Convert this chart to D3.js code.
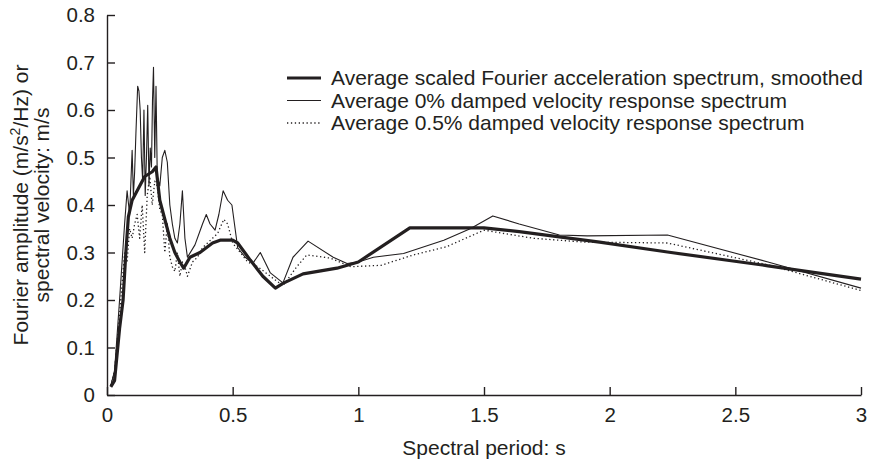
<!DOCTYPE html>
<html>
<head>
<meta charset="utf-8">
<script src="https://cdn.jsdelivr.net/npm/d3@7"></script>
<style>
  body { margin: 0; background: #fff; }
  svg text { font-family: "Liberation Sans", Arial, Helvetica, sans-serif; fill: #231f20; }
</style>
</head>
<body>
<div id="chart"></div>
<script>
// SPECTRAL PERIOD (s) AND VALUES
// thick: average scaled Fourier acceleration spectrum, smoothed
const smoothT = [0.015, 0.03, 0.05, 0.064, 0.075, 0.085, 0.1, 0.12, 0.15, 0.18, 0.195, 0.21, 0.23, 0.25, 0.27, 0.29, 0.305, 0.33, 0.37, 0.42, 0.45, 0.5, 0.52, 0.57, 0.62, 0.67, 0.7, 0.78, 0.915, 1.0, 1.205, 1.5, 1.64, 1.815, 1.96, 2.23, 2.63, 3.0];
const smoothV = [0.017, 0.03, 0.14, 0.2, 0.3, 0.375, 0.41, 0.43, 0.46, 0.47, 0.48, 0.41, 0.37, 0.33, 0.3, 0.28, 0.267, 0.29, 0.3, 0.32, 0.326, 0.326, 0.32, 0.284, 0.25, 0.225, 0.235, 0.255, 0.267, 0.28, 0.352, 0.352, 0.344, 0.332, 0.322, 0.301, 0.272, 0.244];

// thin: average 0% damped velocity response spectrum
const damp0T = [0.015, 0.03, 0.05, 0.07, 0.08, 0.09, 0.1, 0.105, 0.11, 0.115, 0.122, 0.127, 0.132, 0.137, 0.142, 0.147, 0.152, 0.157, 0.162, 0.167, 0.172, 0.177, 0.181, 0.185, 0.19, 0.195, 0.2, 0.21, 0.22, 0.23, 0.24, 0.25, 0.26, 0.27, 0.28, 0.29, 0.3, 0.31, 0.32, 0.35, 0.38, 0.395, 0.41, 0.43, 0.445, 0.462, 0.48, 0.497, 0.52, 0.55, 0.58, 0.61, 0.65, 0.7, 0.74, 0.8, 0.9, 0.955, 1.0, 1.06, 1.18, 1.34, 1.445, 1.535, 1.64, 1.8, 1.91, 2.23, 2.63, 3.0];
const damp0V = [0.02, 0.05, 0.2, 0.36, 0.43, 0.38, 0.515, 0.42, 0.47, 0.55, 0.65, 0.64, 0.6, 0.5, 0.45, 0.6, 0.42, 0.5, 0.61, 0.44, 0.52, 0.48, 0.62, 0.69, 0.5, 0.65, 0.46, 0.44, 0.5, 0.515, 0.49, 0.4, 0.36, 0.33, 0.32, 0.36, 0.43, 0.33, 0.29, 0.316, 0.36, 0.38, 0.36, 0.347, 0.38, 0.43, 0.41, 0.4, 0.31, 0.29, 0.277, 0.3, 0.257, 0.236, 0.29, 0.324, 0.29, 0.277, 0.28, 0.29, 0.298, 0.326, 0.35, 0.377, 0.36, 0.337, 0.335, 0.337, 0.28, 0.225];

// dotted: average 0.5% damped velocity response spectrum
const damp05T = [0.015, 0.03, 0.05, 0.07, 0.08, 0.09, 0.1, 0.11, 0.12, 0.13, 0.14, 0.15, 0.16, 0.17, 0.18, 0.19, 0.2, 0.21, 0.22, 0.23, 0.24, 0.25, 0.26, 0.27, 0.28, 0.29, 0.3, 0.31, 0.32, 0.34, 0.36, 0.38, 0.4, 0.42, 0.44, 0.465, 0.48, 0.5, 0.53, 0.56, 0.6, 0.65, 0.7, 0.755, 0.795, 0.89, 0.97, 1.09, 1.22, 1.35, 1.5, 1.695, 1.895, 2.23, 2.63, 3.0];
const damp05V = [0.02, 0.05, 0.17, 0.3, 0.28, 0.35, 0.33, 0.36, 0.38, 0.33, 0.4, 0.3, 0.42, 0.46, 0.4, 0.45, 0.44, 0.39, 0.38, 0.3, 0.36, 0.29, 0.27, 0.26, 0.3, 0.25, 0.28, 0.27, 0.25, 0.28, 0.29, 0.31, 0.32, 0.33, 0.34, 0.37, 0.36, 0.32, 0.3, 0.28, 0.27, 0.25, 0.23, 0.27, 0.295, 0.288, 0.27, 0.273, 0.295, 0.312, 0.347, 0.33, 0.322, 0.32, 0.274, 0.22];

// AXIS TICKS
const xTicks = [0, 0.5, 1, 1.5, 2, 2.5, 3];
const yTicks = [0, 0.1, 0.2, 0.3, 0.4, 0.5, 0.6, 0.7, 0.8];

const legendLabels = [
    "Average scaled Fourier acceleration spectrum, smoothed",
    "Average 0% damped velocity response spectrum",
    "Average 0.5% damped velocity response spectrum"
];

// GLOBAL LAYOUT
let width = 878;
let height = 461;
let margin = ({top: 15, right: 17, bottom: 66, left: 107});
let ink = "#231f20";
let fontSize = 21;

let svg = d3.select("#chart")
    .append("svg")
    .attr("width", width)
    .attr("height", height);

let xScale = d3.scaleLinear()
    .domain([0, 3])
    .range([margin.left, width - margin.right]);

let yScale = d3.scaleLinear()
    .domain([0, 0.8])
    .range([height - margin.bottom, margin.top]);

// AXES (ticks point inwards)
let xAxis = d3.axisBottom(xScale)
    .tickValues(xTicks)
    .tickFormat(d3.format("~g"))
    .tickSizeInner(-8)
    .tickSizeOuter(0)
    .tickPadding(12);

let yAxis = d3.axisLeft(yScale)
    .tickValues(yTicks)
    .tickFormat(d3.format("~g"))
    .tickSizeInner(-8)
    .tickSizeOuter(0)
    .tickPadding(12);

let gx = svg.append("g")
    .attr("transform", "translate(0," + (height - margin.bottom) + ")")
    .call(xAxis);

let gy = svg.append("g")
    .attr("transform", "translate(" + margin.left + ",0)")
    .call(yAxis);

[gx, gy].forEach(g => {
    g.select(".domain").attr("stroke", ink).attr("stroke-width", 1.4);
    g.selectAll(".tick line").attr("stroke", ink).attr("stroke-width", 1.4);
    g.selectAll(".tick text")
        .attr("fill", ink)
        .style("font-size", "20.5px")
        .style("font-family", "'Liberation Sans', Arial, sans-serif");
});

// AXIS TITLES
svg.append("text")
    .attr("text-anchor", "middle")
    .attr("x", xScale(1.5))
    .attr("y", 455)
    .style("font-size", fontSize + "px")
    .text("Spectral period: s");

let yTitle = svg.append("text")
    .attr("text-anchor", "middle")
    .attr("transform", "translate(28," + yScale(0.4) + ") rotate(-90)")
    .style("font-size", fontSize + "px");
yTitle.append("tspan").text("Fourier amplitude (m/s");
yTitle.append("tspan").attr("dy", -8).style("font-size", "14px").text("2");
yTitle.append("tspan").attr("dy", 8).text("/Hz) or");

svg.append("text")
    .attr("text-anchor", "middle")
    .attr("transform", "translate(49," + yScale(0.4) + ") rotate(-90)")
    .style("font-size", fontSize + "px")
    .text("spectral velocity: m/s");

// LINES
let line = d3.line()
    .x(d => xScale(d[0]))
    .y(d => yScale(d[1]));

let series = [
    {t: damp05T, v: damp05V, width: 1.3, dash: "1.3,2.6"},
    {t: damp0T, v: damp0V, width: 1.1, dash: null},
    {t: smoothT, v: smoothV, width: 3.2, dash: null}
];

series.forEach(s => {
    svg.append("path")
        .datum(d3.zip(s.t, s.v))
        .attr("fill", "none")
        .attr("stroke", ink)
        .attr("stroke-width", s.width)
        .attr("stroke-linejoin", "round")
        .attr("stroke-dasharray", s.dash)
        .attr("d", line);
});

// LEGEND
let legendStyles = [
    {width: 3.2, dash: null},
    {width: 1.1, dash: null},
    {width: 1.3, dash: "1.3,2.6"}
];

let legend = svg.append("g")
    .attr("transform", "translate(287,78)");

let legendItems = legend.selectAll(".legend-item")
    .data(legendLabels)
    .enter()
    .append("g")
    .attr("class", "legend-item")
    .attr("transform", (d, i) => "translate(0," + (i * 22.5) + ")");

legendItems.append("line")
    .attr("x1", 0)
    .attr("x2", 34)
    .attr("stroke", ink)
    .attr("stroke-width", (d, i) => legendStyles[i].width)
    .attr("stroke-dasharray", (d, i) => legendStyles[i].dash);

legendItems.append("text")
    .attr("x", 44)
    .attr("y", 7)
    .style("font-size", fontSize + "px")
    .text(d => d);
</script>
</body>
</html>
